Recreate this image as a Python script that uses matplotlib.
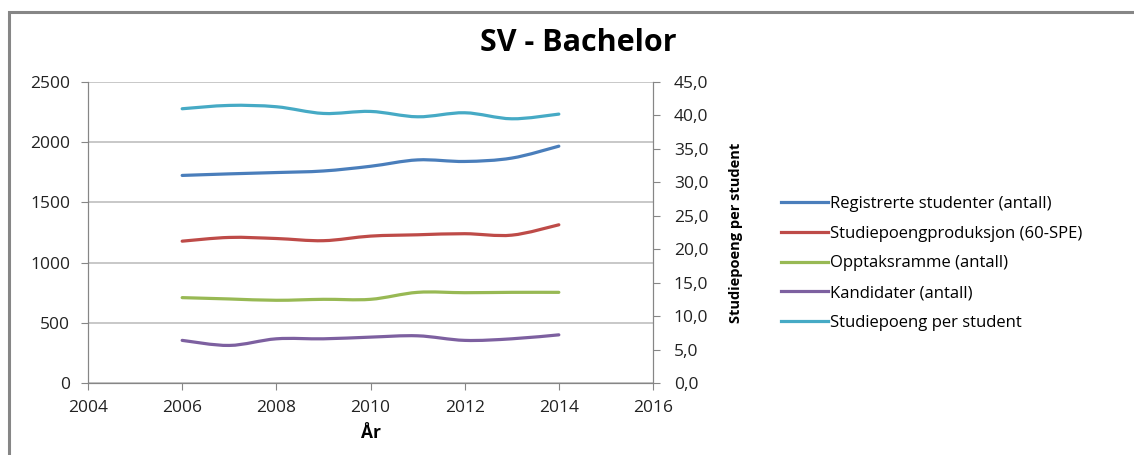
import matplotlib.pyplot as plt
from matplotlib.path import Path
from matplotlib.patches import PathPatch, Rectangle
from matplotlib.lines import Line2D

plt.rcParams['font.family'] = ['Open Sans', 'DejaVu Sans']

years = [2006, 2007, 2008, 2009, 2010, 2011, 2012, 2013, 2014]
registrerte = [1724, 1737, 1748, 1761, 1800, 1853, 1840, 1868, 1967]
produksjon = [1178, 1209, 1200, 1182, 1220, 1231, 1240, 1228, 1314]
opptak = [709, 698, 687, 695, 695, 753, 750, 753, 753]
kandidater = [354, 312, 367, 367, 381, 392, 354, 367, 400]
sp_per_student = [41.0, 41.5, 41.3, 40.3, 40.6, 39.8, 40.4, 39.5, 40.2]

labels = ['Registrerte studenter (antall)', 'Studiepoengproduksjon (60-SPE)',
          'Opptaksramme (antall)', 'Kandidater (antall)', 'Studiepoeng per student']
colors = ['#4A7EBB', '#BE4B48', '#98B954', '#7D60A0', '#46AAC5']


def smooth_line(ax, xs, ys, color):
    # Excel-like smoothed line: cubic bezier through the data points
    n = len(xs)
    verts = [(xs[0], ys[0])]
    codes = [Path.MOVETO]
    for i in range(n - 1):
        a = max(i - 1, 0)
        b = min(i + 2, n - 1)
        c1 = (xs[i] + (xs[i + 1] - xs[a]) / 6, ys[i] + (ys[i + 1] - ys[a]) / 6)
        c2 = (xs[i + 1] - (xs[b] - xs[i]) / 6, ys[i + 1] - (ys[b] - ys[i]) / 6)
        verts += [c1, c2, (xs[i + 1], ys[i + 1])]
        codes += [Path.CURVE4] * 3
    patch = PathPatch(Path(verts, codes), fill=False, edgecolor=color, lw=2.3,
                      capstyle='round', joinstyle='round', zorder=3)
    ax.add_patch(patch)


fig = plt.figure(figsize=(11.34, 4.55), dpi=100)
ax = fig.add_axes([88 / 1134, 72 / 455, 565 / 1134, 301 / 455])
ax2 = ax.twinx()

# outer chart border
fig.patches.append(Rectangle((9 / 1134, -0.1), 1.2, 1 - 12 / 455 + 0.1, transform=fig.transFigure,
                             fill=False, edgecolor='#868686', lw=2.2))

for vals, c in zip([registrerte, produksjon, opptak, kandidater], colors[:4]):
    smooth_line(ax, years, vals, c)
smooth_line(ax2, years, sp_per_student, colors[4])

ax.set_xlim(2004, 2016)
ax.set_ylim(0, 2500)
ax2.set_ylim(0, 45)
ax.set_xticks(range(2004, 2017, 2))
ax.set_yticks(range(0, 2501, 500))
ax2.set_yticks(range(0, 46, 5))
ax2.set_yticklabels([f'{v:.1f}'.replace('.', ',') for v in range(0, 46, 5)])

ax.grid(axis='y', color='#BFBFBF', lw=1.2)
ax.set_axisbelow(True)
for a in (ax, ax2):
    for s in a.spines.values():
        s.set_color('#868686')
    a.spines['top'].set_visible(False)
ax.tick_params(axis='both', colors='#868686', labelcolor='#222222', labelsize=12.5, length=5)
ax.tick_params(axis='y', pad=8)
ax.tick_params(axis='x', pad=7)
ax2.tick_params(axis='y', colors='#868686', labelcolor='#222222', labelsize=12.5, length=5, pad=10)

ax.set_xlabel('År', fontsize=12.5, fontweight='bold', labelpad=6)
ax2.set_ylabel('Studiepoeng per student', fontsize=10.5, fontweight='bold', labelpad=15)

fig.text(578 / 1134, 1 - 43 / 455, 'SV - Bachelor', fontsize=22, fontweight='bold',
         ha='center', va='center')

handles = [Line2D([], [], color=c, lw=2.3) for c in colors]
fig.legend(handles, labels, loc='upper left', bbox_to_anchor=(781 / 1134, 1 - 196 / 455),
           frameon=False, fontsize=12, handlelength=2.8, handletextpad=0.12,
           labelspacing=0.82, borderpad=0, borderaxespad=0)

plt.savefig('out.png', dpi=100)
